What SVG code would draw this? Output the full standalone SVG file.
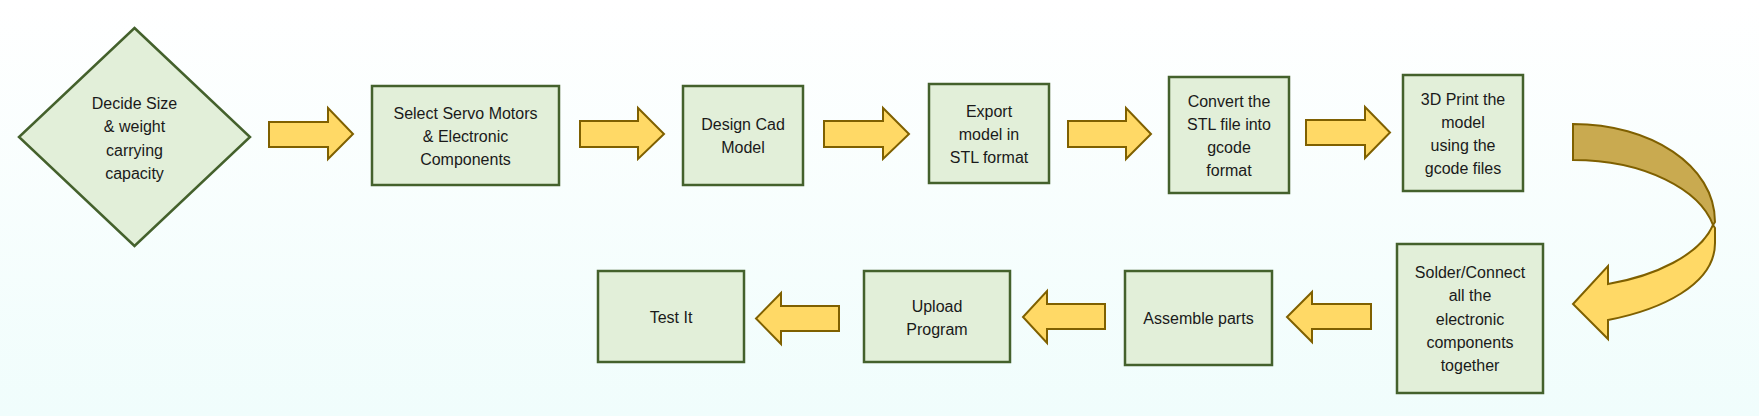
<svg xmlns="http://www.w3.org/2000/svg" width="1759" height="416" viewBox="0 0 1759 416">
<defs>
<linearGradient id="bg" x1="0" y1="0" x2="0" y2="1">
<stop offset="0" stop-color="#FFFFFF"/>
<stop offset="1" stop-color="#F0FDFC"/>
</linearGradient>
<style>
.box{fill:#E2EFD9;stroke:#44612C;stroke-width:2.5}
.arr{fill:#FFD966;stroke:#7F6000;stroke-width:2;stroke-linejoin:miter}
.back{fill:#C9AA50;stroke:#7F6000;stroke-width:2}
text{font-family:"Liberation Sans",Arial,sans-serif;font-size:16px;fill:#1A1A1A;text-anchor:middle}
</style>
</defs>
<rect width="1759" height="416" fill="url(#bg)"/>
<g id="connectors">
<polygon class="arr" points="269,122 328,122 328,108 353,134 328,159 328,147 269,147"/>
<polygon class="arr" points="580,121 638,121 638,108 664,134 638,159 638,147 580,147"/>
<polygon class="arr" points="824,121 883,121 883,108 909,134 883,159 883,147 824,147"/>
<polygon class="arr" points="1068,121 1126,121 1126,108 1151,134 1126,159 1126,147 1068,147"/>
<polygon class="arr" points="1306,120 1365,120 1365,107 1390,132.5 1365,158 1365,145 1306,145"/>
<path class="back" d="M1573,124 C1650,124 1715,165 1715,222 L1713,225 C1700,190 1645,160 1573,160 Z"/>
<path class="arr" d="M1713,225 L1715,228 L1715,243 C1715,285 1660,310 1608,320 L1608,339 L1573,304 L1608,266 L1608,284 C1655,276 1700,255 1713,225 Z"/>
<polygon class="arr" points="1371,304 1312,304 1312,292 1287,317 1312,342 1312,329 1371,329"/>
<polygon class="arr" points="1105,304 1047,304 1047,291 1023,317 1047,343 1047,329 1105,329"/>
<polygon class="arr" points="839,306 781,306 781,293 756,318.5 781,344 781,331 839,331"/>
</g>
<g id="n1">
<polygon class="box" points="134.5,28 250,137 134.5,246 19,137"/>
<text x="134.5" y="108.5">Decide Size</text>
<text x="134.5" y="132">&amp; weight</text>
<text x="134.5" y="155.5">carrying</text>
<text x="134.5" y="178.5">capacity</text>
</g>
<g id="n2">
<rect class="box" x="372" y="86" width="187" height="99"/>
<text x="465.5" y="119">Select Servo Motors</text>
<text x="465.5" y="141.5">&amp; Electronic</text>
<text x="465.5" y="164.5">Components</text>
</g>
<g id="n3">
<rect class="box" x="683" y="86" width="120" height="99"/>
<text x="743" y="130">Design Cad</text>
<text x="743" y="153">Model</text>
</g>
<g id="n4">
<rect class="box" x="929" y="84" width="120" height="99"/>
<text x="989" y="117">Export</text>
<text x="989" y="140">model in</text>
<text x="989" y="163">STL format</text>
</g>
<g id="n5">
<rect class="box" x="1169" y="77" width="120" height="116"/>
<text x="1229" y="107">Convert the</text>
<text x="1229" y="130">STL file into</text>
<text x="1229" y="153">gcode</text>
<text x="1229" y="176">format</text>
</g>
<g id="n6">
<rect class="box" x="1403" y="75" width="120" height="116"/>
<text x="1463" y="105">3D Print the</text>
<text x="1463" y="128">model</text>
<text x="1463" y="151">using the</text>
<text x="1463" y="174">gcode files</text>
</g>
<g id="n7">
<rect class="box" x="1397" y="244" width="146" height="149"/>
<text x="1470" y="278">Solder/Connect</text>
<text x="1470" y="301">all the</text>
<text x="1470" y="325">electronic</text>
<text x="1470" y="348">components</text>
<text x="1470" y="371">together</text>
</g>
<g id="n8">
<rect class="box" x="1125" y="271" width="147" height="94"/>
<text x="1198.5" y="324">Assemble parts</text>
</g>
<g id="n9">
<rect class="box" x="864" y="271" width="146" height="91"/>
<text x="937" y="311.5">Upload</text>
<text x="937" y="334.5">Program</text>
</g>
<g id="n10">
<rect class="box" x="598" y="271" width="146" height="91"/>
<text x="671" y="323">Test It</text>
</g>
</svg>
